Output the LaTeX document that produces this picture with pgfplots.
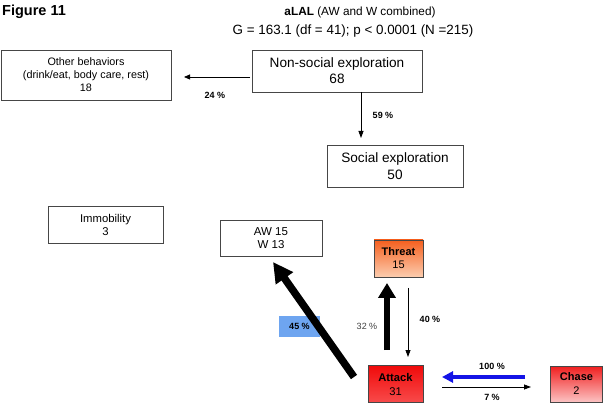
\documentclass[border=0pt]{standalone}
\usepackage{pgfplots}
\pgfplotsset{compat=1.18}
\usepackage{fontspec}
\setmainfont{Liberation Sans}
\usetikzlibrary{arrows.meta,shadings}
\definecolor{boxline}{RGB}{70,70,70}
\definecolor{labblue}{RGB}{110,165,240}
\definecolor{arrblue}{RGB}{20,20,230}
\definecolor{thrtop}{RGB}{245,95,30}
\definecolor{thrbot}{RGB}{252,205,175}
\definecolor{atttop}{RGB}{240,10,10}
\definecolor{attbot}{RGB}{248,75,75}
\definecolor{chtop}{RGB}{240,30,30}
\definecolor{chbot}{RGB}{252,195,195}
\tikzset{
  boxn/.style={draw=boxline, line width=0.8pt, fill=white, inner sep=0pt, align=center},
  pct/.style={font=\fontsize{9}{10}\selectfont\bfseries, inner sep=1pt},
}
\begin{document}
\begin{tikzpicture}
\begin{axis}[
  x=1pt, y=1pt, y dir=reverse,
  xmin=0, xmax=605, ymin=0, ymax=403,
  scale only axis, hide axis, clip=false,
]
% invisible frame
\addplot[draw=none, forget plot] coordinates {(0,0) (605,403)};
% titles
\node[anchor=west, inner sep=0pt, font=\fontsize{14.5}{16}\selectfont\bfseries] at (axis cs:2,12) {Figure 11};
\node[font=\fontsize{11.8}{13}\selectfont, inner sep=0pt] at (axis cs:360,12) {\textbf{aLAL} (AW and W combined)};
\node[font=\fontsize{13.4}{15}\selectfont, inner sep=0pt] at (axis cs:353,31) {G = 163.1 (df = 41); p < 0.0001 (N =215)};
% boxes
\node[boxn, minimum width=170pt, minimum height=50pt, font=\fontsize{10.8}{13}\selectfont] at (axis cs:86,75) {Other behaviors\\(drink/eat, body care, rest)\\18};
\node[boxn, minimum width=170pt, minimum height=42pt, font=\fontsize{13.6}{16}\selectfont] at (axis cs:337,71) {Non-social exploration\\68};
\node[boxn, minimum width=136pt, minimum height=42pt, font=\fontsize{13.6}{17}\selectfont] at (axis cs:395,166) {Social exploration\\50};
\node[boxn, minimum width=115pt, minimum height=37pt, font=\fontsize{11.3}{13}\selectfont] at (axis cs:105.5,224.5) {Immobility\\3};
\node[boxn, minimum width=102pt, minimum height=36pt, font=\fontsize{11.5}{13}\selectfont] at (axis cs:271,238) {AW 15\\W 13};
\node[boxn, top color=thrtop, bottom color=thrbot, minimum width=49pt, minimum height=37pt, font=\fontsize{11}{13}\selectfont] at (axis cs:398.5,258.5) {\textbf{Threat}\\15};
\node[boxn, top color=atttop, bottom color=attbot, minimum width=55pt, minimum height=37pt, font=\fontsize{11.2}{14}\selectfont] at (axis cs:395.5,384) {\textbf{Attack}\\31};
\node[boxn, top color=chtop, bottom color=chbot, minimum width=52pt, minimum height=36pt, font=\fontsize{11}{14}\selectfont] at (axis cs:576.5,384) {\textbf{Chase}\\2};
% arrows
\addplot[black, line width=0.8pt, -{Triangle[length=6pt,width=5pt]}] coordinates {(250,77) (184,77)};
\node[pct] at (axis cs:215,95) {24 \%};
\addplot[black, line width=0.8pt, -{Triangle[length=7pt,width=5pt]}] coordinates {(361,92) (361,138)};
\node[pct] at (axis cs:383,115) {59 \%};
\node[fill=labblue, minimum width=41pt, minimum height=21pt, inner sep=0pt, pct] at (axis cs:299.5,326.5) {45 \%};
\addplot[black, line width=7.5pt, -{Triangle[length=20pt,width=20pt]}] coordinates {(354,377) (273,262)};
\addplot[black, line width=6.5pt, -{Triangle[length=15pt,width=17pt]}] coordinates {(387,350) (387,283)};
\node[font=\fontsize{9}{10}\selectfont, text=black!75, inner sep=1pt] at (axis cs:367,326) {32 \%};
\addplot[black, line width=0.8pt, -{Triangle[length=7pt,width=5pt]}] coordinates {(408,288) (408,357)};
\node[pct] at (axis cs:430,319) {40 \%};
\addplot[arrblue, line width=4pt, -{Triangle[length=11pt,width=11pt]}] coordinates {(525,377) (442,377)};
\node[pct] at (axis cs:492,366) {100 \%};
\addplot[black, line width=0.8pt, -{Triangle[length=7pt,width=5pt]}] coordinates {(442,387) (531,387)};
\node[pct] at (axis cs:492,397) {7 \%};
\end{axis}
\end{tikzpicture}
\end{document}
